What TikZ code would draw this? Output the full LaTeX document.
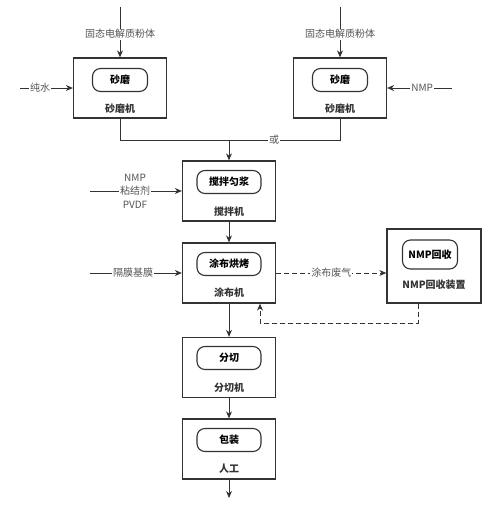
\documentclass[tikz,border=0pt]{standalone}
\usepackage{fontspec}
\setmainfont{Noto Sans CJK SC}
\usepackage{xcolor}
\usetikzlibrary{positioning}
\usetikzlibrary{arrows.meta}

\definecolor{linecol}{HTML}{333333}
\definecolor{graycol}{HTML}{555555}

\tikzset{
    machine/.style={draw=linecol, line width=1.3pt, minimum width=93pt, minimum height=60pt},
    stepbox/.style={draw=linecol, line width=1.1pt, rounded corners=8pt, minimum width=55pt, minimum height=23pt, font=\fontsize{10}{12}\selectfont\bfseries},
    caption/.style={font=\fontsize{10}{12}\selectfont\bfseries, text=linecol},
    feed/.style={fill=white, inner sep=1pt, font=\fontsize{10}{13.5}\selectfont, text=graycol, align=center},
    flow/.style={->, draw=linecol, line width=1pt},
    waste/.style={dash pattern=on 5pt off 3pt},
}

\begin{document}
\begin{tikzpicture}[>={Stealth[length=7pt, width=6pt]}, x=1pt, y=-1pt]
    \useasboundingbox (0,0) rectangle (500,519);

    % machines
    \node[machine] (m1) at (120,88) {};
    \node[machine] (m2) at (340,88) {};
    \node[machine] (m3) at (229,191) {};
    \node[machine] (m4) at (229,273) {};
    \node[machine, minimum width=94pt, minimum height=74pt] (m5) at (434,266) {};
    \node[machine] (m6) at (229,367.5) {};
    \node[machine] (m7) at (229,449) {};

    % steps
    \node[stepbox] (s1) at (120,80) {砂磨};
    \node[stepbox] (s2) at (340,80) {砂磨};
    \node[stepbox, minimum width=64pt] (s3) at (229,182) {搅拌匀浆};
    \node[stepbox, minimum width=64pt] (s4) at (229,264) {涂布烘烤};
    \node[stepbox, minimum height=29pt] (s5) at (430,254.5) {NMP回收};
    \node[stepbox, minimum width=64pt] (s6) at (229,358) {分切};
    \node[stepbox, minimum width=64pt] (s7) at (229,440) {包装};

    % captions
    \node[caption] (c1) at (120,109) {砂磨机};
    \node[caption] (c2) at (340,109) {砂磨机};
    \node[caption] (c3) at (229,212) {搅拌机};
    \node[caption] (c4) at (229,293) {涂布机};
    \node[caption] (c5) at (434,285) {NMP回收装置};
    \node[caption] (c6) at (229,388) {分切机};
    \node[caption] (c7) at (229,469) {人工};

    % feeds
    \coordinate (in1) at (120,7);
    \coordinate (in2) at (340,7);
    \coordinate (water) at (20,88);
    \coordinate (nmp) at (452,88);
    \coordinate (binder) at (90,191);
    \coordinate (film) at (90,273);
    \coordinate (j1) at (120,140);
    \coordinate (j2) at (340,140);
    \coordinate (r1) at (418,323);
    \coordinate (r2) at (260,323);
    \coordinate (out) at (229,498);

    \draw[flow] (in1) -- node[feed, pos=0.54] {固态电解质粉体} (m1);
    \draw[flow] (in2) -- node[feed, pos=0.54] {固态电解质粉体} (m2);
    \draw[flow] (water) -- node[feed, pos=0.38] {纯水} (m1);
    \draw[flow] (nmp) -- node[feed, pos=0.46] {NMP} (m2);
    \draw[flow] (binder) -- node[feed, pos=0.49] {NMP\\粘结剂\\PVDF} (m3);
    \draw[flow] (film) -- node[feed, pos=0.47] {隔膜基膜} (m4);

    % main line
    \draw[draw=linecol, line width=1pt] (m1) -- (j1) -- node[feed, pos=0.7] {或} (j2) -- (m2);
    \draw[flow] (j1 -| m3) -- (m3);
    \draw[flow] (m3) -- (m4);
    \draw[flow] (m4) -- (m6);
    \draw[flow] (m6) -- (m7);
    \draw[flow] (m7) -- (out);

    % NMP recovery
    \draw[flow, waste] (m4.east |- film) -- node[feed] {涂布废气} (m5.west |- film);
    \draw[flow, waste] (m5.south -| r1) -- (r1) -- (r2) -- (r2 |- m4.south);
\end{tikzpicture}
\end{document}
